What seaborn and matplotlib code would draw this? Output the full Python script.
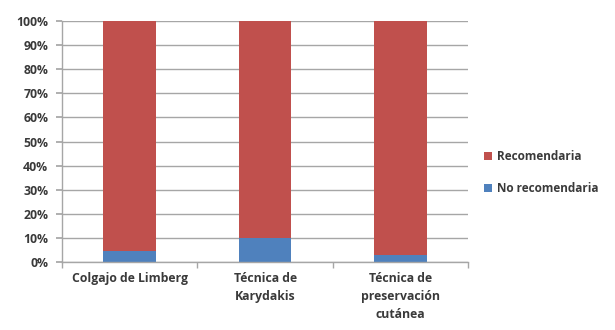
import matplotlib
matplotlib.use("Agg")
import matplotlib.pyplot as plt
import seaborn as sns
import pandas as pd
from matplotlib.patches import Patch
from matplotlib.ticker import FuncFormatter, MultipleLocator

categories = ["Colgajo de Limberg", "Técnica de\nKarydakis", "Técnica de\npreservación\ncutánea"]
no_recomendaria = [4.5, 10, 3]
recomendaria = [95.5, 90, 97]
series_names = ["Recomendaria", "No recomendaria"]

RED = "#C0504D"
BLUE = "#4F81BD"
TEXT = "#3A3A3A"

sns.set_theme(style="white")
plt.rcParams["font.family"] = ["Open Sans", "DejaVu Sans"]

df = pd.DataFrame({
    "cat": categories,
    "no": no_recomendaria,
    "total": [n + r for n, r in zip(no_recomendaria, recomendaria)],
})

fig = plt.figure(figsize=(6.15, 3.30), dpi=100)
ax = fig.add_axes([0.101, 0.206, 0.660, 0.730])

sns.barplot(data=df, x="cat", y="total", color=RED, width=0.39,
            saturation=1, ax=ax, linewidth=0)
sns.barplot(data=df, x="cat", y="no", color=BLUE, width=0.39,
            saturation=1, ax=ax, linewidth=0)

ax.set_ylim(0, 100)
ax.set_xlim(-0.5, 2.5)
ax.yaxis.set_major_locator(MultipleLocator(10))
ax.yaxis.set_major_formatter(FuncFormatter(lambda v, p: f"{int(round(v))}%"))
ax.grid(axis="y", color="#A6A6A6", linewidth=1.0)
ax.set_axisbelow(True)
ax.set_xlabel("")
ax.set_ylabel("")

for side in ["top", "right"]:
    ax.spines[side].set_visible(False)
for side in ["left", "bottom"]:
    ax.spines[side].set_color("#A6A6A6")
    ax.spines[side].set_linewidth(1.0)

ax.tick_params(axis="y", which="major", left=True, length=4, color="#A6A6A6",
               labelsize=8.8, labelcolor=TEXT, pad=6)
for lbl in ax.get_yticklabels():
    lbl.set_fontweight("bold")

# category labels without tick marks; tick marks between categories
ax.set_xticks([0, 1, 2])
ax.set_xticklabels(categories, fontsize=8.8, fontweight="bold", color=TEXT,
                   linespacing=1.5)
ax.tick_params(axis="x", which="major", length=0, pad=7)
ax.set_xticks([-0.5, 0.5, 1.5, 2.5], minor=True)
ax.tick_params(axis="x", which="minor", bottom=True, length=4, color="#A6A6A6")

handles = [Patch(facecolor=RED, edgecolor="none"),
           Patch(facecolor=BLUE, edgecolor="none")]
leg = fig.legend(handles, series_names, loc="center left",
                 bbox_to_anchor=(0.770, 0.477), frameon=False,
                 handlelength=0.7, handleheight=0.7, handletextpad=0.4,
                 labelspacing=1.6, prop={"size": 8.5, "weight": "bold"})
for t in leg.get_texts():
    t.set_color(TEXT)

fig.savefig("out.png", dpi=100)
